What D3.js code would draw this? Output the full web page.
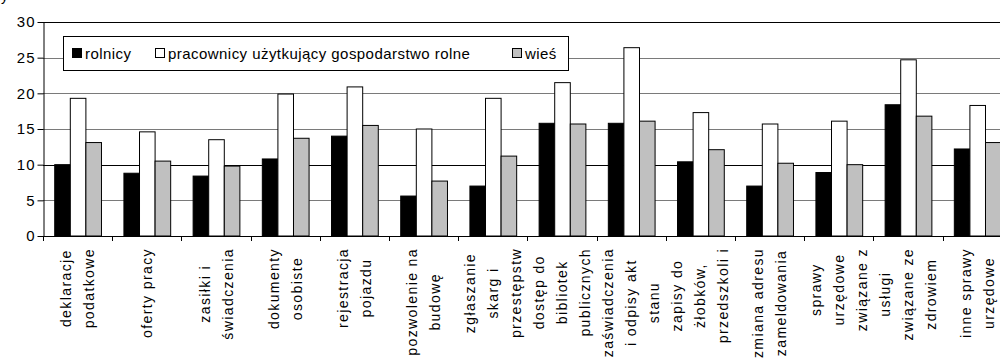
<!DOCTYPE html>
<html>
<head>
<meta charset="utf-8">
<script src="https://cdn.jsdelivr.net/npm/d3@7"></script>
<style>
  html, body { margin: 0; padding: 0; background: #fff; }
  svg { display: block; font-family: "Liberation Sans", Arial, sans-serif; }
</style>
</head>
<body>
<svg id="chart" width="1000" height="360"></svg>
<script>
const categories = [
  "deklaracje podatkowe", "oferty pracy", "zasiłki i świadczenia", "dokumenty osobiste",
  "rejestracja pojazdu", "pozwolenie na budowę", "zgłaszanie skarg i przestępstw",
  "dostęp do bibliotek publicznych", "zaświadczenia i odpisy akt stanu",
  "zapisy do żłobków, przedszkoli i", "zmiana adresu zameldowania",
  "sprawy urzędowe związane z", "usługi związane ze zdrowiem", "inne sprawy urzędowe"
];
const categoryLabelLines = [
  ["deklaracje", "podatkowe"], ["oferty pracy"], ["zasiłki i", "świadczenia"], ["dokumenty", "osobiste"],
  ["rejestracja", "pojazdu"], ["pozwolenie na", "budowę"], ["zgłaszanie", "skarg i", "przestępstw"],
  ["dostęp do", "bibliotek", "publicznych"], ["zaświadczenia", "i odpisy akt", "stanu"],
  ["zapisy do", "żłobków,", "przedszkoli i"], ["zmiana adresu", "zameldowania"],
  ["sprawy", "urzędowe", "związane z"], ["usługi", "związane ze", "zdrowiem"], ["inne sprawy", "urzędowe"]
];
const seriesNames = ["rolnicy", "pracownicy użytkujący gospodarstwo rolne", "wieś"];
const rolnicy    = [10.0, 8.8, 8.4, 10.8, 14.0, 5.6, 7.0, 15.8, 15.8, 10.4, 7.0, 8.9, 18.4, 12.2];
const pracownicy = [19.3, 14.6, 13.5, 19.9, 20.9, 15.0, 19.3, 21.5, 26.4, 17.3, 15.7, 16.1, 24.7, 18.3];
const wies       = [13.1, 10.5, 9.8, 13.7, 15.5, 7.7, 11.2, 15.7, 16.1, 12.1, 10.2, 10.0, 16.8, 13.1];
const seriesColors = ["#000000", "#ffffff", "#c0c0c0"];
const yTicks = [0, 5, 10, 15, 20, 25, 30];

const seriesValues = [rolnicy, pracownicy, wies];
const svg = d3.select("#chart");

const plotLeft = 43, plotRight = 1011.8, plotTop = 22, plotBottom = 236;
const x0 = d3.scaleBand().domain(categories).range([plotLeft, plotRight]).padding(0);
const x1 = d3.scaleBand().domain(seriesNames).range([0, x0.bandwidth()]).paddingInner(0).paddingOuter(0.72);
const y = d3.scaleLinear().domain([0, 30]).range([plotBottom, plotTop]);

// top-left clipped title glyph
svg.append("text").attr("x", 1).attr("y", 1).attr("font-size", 14).text("y");

// gridlines
svg.append("g").selectAll("line").data(yTicks.filter(d => d > 0)).join("line")
  .attr("x1", plotLeft).attr("x2", plotRight)
  .attr("y1", d => Math.round(y(d)) + 0.5).attr("y2", d => Math.round(y(d)) + 0.5)
  .attr("stroke", d => (d === 30 || d === 10) ? "#000" : "#7a7a7a").attr("stroke-width", 1);

// bars
const groups = svg.append("g").selectAll("g").data(categories).join("g")
  .attr("transform", d => `translate(${x0(d)},0)`);
groups.selectAll("rect").data((c, i) => seriesNames.map((s, k) => ({ s, k, v: seriesValues[k][i] }))).join("rect")
  .attr("x", d => x1(d.s) + 0.5)
  .attr("y", d => y(d.v))
  .attr("width", x1.bandwidth())
  .attr("height", d => plotBottom - y(d.v))
  .attr("fill", d => seriesColors[d.k])
  .attr("stroke", "#000").attr("stroke-width", 1);

// y axis
const yAxis = svg.append("g").attr("transform", `translate(${plotLeft + 0.5},0)`)
  .call(d3.axisLeft(y).tickValues(yTicks).tickSize(6).tickSizeOuter(0).tickPadding(2));
yAxis.attr("font-family", null).attr("font-size", null);
yAxis.select(".domain").attr("stroke", "#000");
yAxis.selectAll(".tick line").attr("stroke", "#000");
yAxis.selectAll("text").attr("font-size", 15).attr("letter-spacing", "1px").attr("fill", "#000");

// x axis baseline + boundary ticks
svg.append("line").attr("x1", plotLeft).attr("x2", plotRight)
  .attr("y1", plotBottom + 0.5).attr("y2", plotBottom + 0.5).attr("stroke", "#000");
const bounds = categories.map(c => x0(c)).concat([x0(categories[categories.length - 1]) + x0.bandwidth()]);
svg.append("g").selectAll("line").data(bounds).join("line")
  .attr("x1", d => Math.round(d) + 0.5).attr("x2", d => Math.round(d) + 0.5)
  .attr("y1", plotBottom).attr("y2", plotBottom + 5).attr("stroke", "#000");

// x labels (rotated, wrapped)
const lineGap = 23;
const labelTop = 248;
const labelG = svg.append("g").attr("font-size", 14).attr("letter-spacing", "1.4px");
categories.forEach((c, i) => {
  const lines = categoryLabelLines[i];
  const cx = x0(c) + x0.bandwidth() / 2;
  const g = labelG.append("g");
  const texts = lines.map((t, j) => g.append("text").attr("text-anchor", "middle")
    .attr("dominant-baseline", "central").text(t));
  const maxLen = d3.max(texts, t => t.node().getComputedTextLength());
  const cy = labelTop + maxLen / 2;
  texts.forEach((t, j) => {
    const off = (j - (lines.length - 1) / 2) * lineGap;
    t.attr("transform", `translate(${cx + off},${cy}) rotate(-90)`);
  });
});

// legend
const legend = svg.append("g");
legend.append("rect").attr("x", 63.5).attr("y", 36.5).attr("width", 505).attr("height", 34)
  .attr("fill", "#fff").attr("stroke", "#000");
const legendX = [72, 155, 512];
seriesNames.forEach((s, k) => {
  legend.append("rect").attr("x", legendX[k] + 0.5).attr("y", 48.5).attr("width", 9).attr("height", 9)
    .attr("fill", seriesColors[k]).attr("stroke", "#000");
  legend.append("text").attr("x", legendX[k] + 13).attr("y", 58.5).attr("font-size", 15)
    .attr("letter-spacing", "0.45px").text(s);
});
</script>
</body>
</html>
